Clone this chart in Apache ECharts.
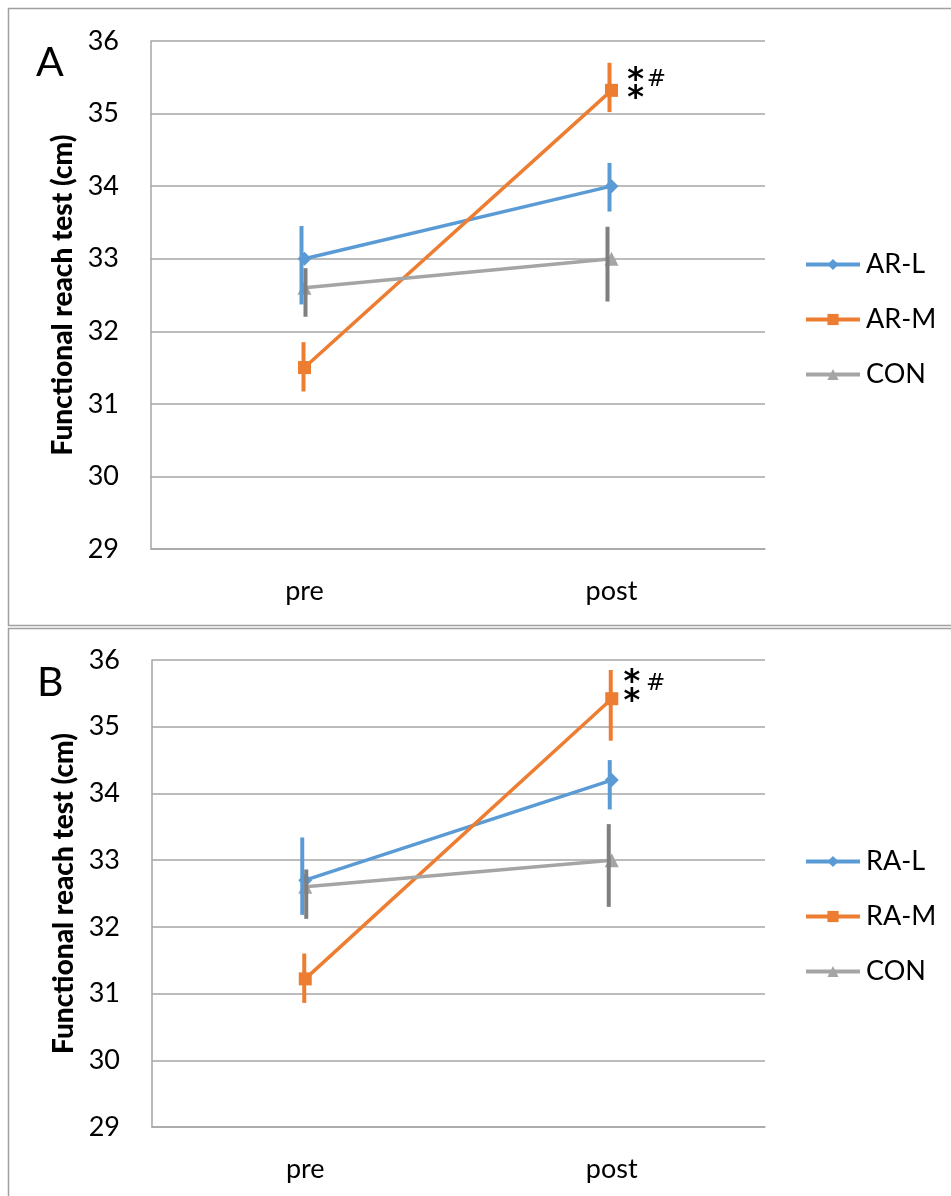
<!DOCTYPE html>
<html>
<head>
<meta charset="utf-8">
<script src="https://cdn.jsdelivr.net/npm/echarts@6/dist/echarts.min.js"></script>
<style>
html,body{margin:0;padding:0;background:#fff;}
#main{width:951px;height:1196px;}
</style>
</head>
<body>
<div id="main"></div>
<script>
// ---- data ----
const categories = ['pre', 'post'];
const yTicks = [29, 30, 31, 32, 33, 34, 35, 36];

// Panel A
const namesA = ['AR-L', 'AR-M', 'CON'];
const arL = [33.0, 34.0];
const arLLow = [32.37, 33.65];
const arLHigh = [33.45, 34.32];
const arM = [31.5, 35.32];
const arMLow = [31.17, 35.02];
const arMHigh = [31.85, 35.7];
const conA = [32.6, 33.0];
const conALow = [32.2, 32.41];
const conAHigh = [32.87, 33.44];

// Panel B
const namesB = ['RA-L', 'RA-M', 'CON'];
const raL = [32.7, 34.2];
const raLLow = [32.18, 33.76];
const raLHigh = [33.34, 34.5];
const raM = [31.22, 35.42];
const raMLow = [30.86, 34.79];
const raMHigh = [31.6, 35.85];
const conB = [32.6, 33.0];
const conBLow = [32.12, 32.3];
const conBHigh = [32.86, 33.54];

// significance markers (attached to post value of the M group)
const annotA = { cat: 1, value: arM[1] };
const annotB = { cat: 1, value: raM[1] };

// ---- styling ----
const FONT = 'Lato, "Open Sans", sans-serif';
const BLUE = '#5B9BD5', ORANGE = '#ED7D31', GRAY = '#A5A5A5', GRAYBAR = '#7F7F7F';
const GRIDC = '#A6A6A6';

const chart = echarts.init(document.getElementById('main'), null, { renderer: 'canvas' });

function xAxis(gi) {
  return {
    type: 'category', gridIndex: gi, data: categories, boundaryGap: true,
    axisTick: { show: false },
    axisLine: { show: true, lineStyle: { color: GRIDC, width: 1.5 } },
    axisLabel: { color: '#000', fontFamily: FONT, fontSize: 27, margin: 29 },
    splitLine: { show: false }
  };
}
function yAxis(gi) {
  return {
    type: 'value', gridIndex: gi, min: yTicks[0], max: yTicks[yTicks.length - 1], interval: 1,
    name: 'Functional reach test (cm)', nameLocation: 'middle', nameGap: 74,
    nameTextStyle: { color: '#000', fontFamily: 'Lato', fontSize: 28, fontWeight: 900 },
    axisLine: { show: true, lineStyle: { color: GRIDC, width: 1.5 } },
    axisTick: { show: false },
    axisLabel: { color: '#000', fontFamily: FONT, fontSize: 27, margin: 32 },
    splitLine: { show: true, lineStyle: { color: GRIDC, width: 1.5 } }
  };
}
function lineSeries(name, vals, color, symbol, size, gi) {
  return {
    type: 'line', name, xAxisIndex: gi, yAxisIndex: gi, data: vals,
    symbol, symbolSize: size, showSymbol: true,
    lineStyle: { color, width: 3.5 }, itemStyle: { color },
    z: 2, animation: false
  };
}
function errSeries(lows, highs, color, off, gi) {
  return {
    type: 'custom', xAxisIndex: gi, yAxisIndex: gi, z: 5, silent: true, animation: false,
    data: categories.map((c, i) => [i, lows[i], highs[i]]),
    encode: { x: 0, y: [1, 2] },
    renderItem: function (params, api) {
      const x = api.value(0);
      const p1 = api.coord([x, api.value(1)]);
      const p2 = api.coord([x, api.value(2)]);
      const o = off[x] || 0;
      return {
        type: 'line',
        shape: { x1: p1[0] + o, y1: p1[1], x2: p2[0] + o, y2: p2[1] },
        style: { stroke: color, lineWidth: 4 }
      };
    }
  };
}
function annotSeries(a, gi, offs) {
  return {
    type: 'custom', xAxisIndex: gi, yAxisIndex: gi, z: 6, silent: true, animation: false,
    data: [[a.cat, a.value]],
    renderItem: function (params, api) {
      const p = api.coord([api.value(0), api.value(1)]);
      const st = { fill: '#000', fontFamily: 'DejaVu Sans, sans-serif', align: 'center', verticalAlign: 'middle' };
      return {
        type: 'group',
        children: [
          { type: 'text', x: p[0] + offs.sx, y: p[1] + offs.s1, style: Object.assign({ text: '*', fontSize: 32, fontWeight: 'bold' }, st) },
          { type: 'text', x: p[0] + offs.sx, y: p[1] + offs.s2, style: Object.assign({ text: '*', fontSize: 32, fontWeight: 'bold' }, st) },
          { type: 'text', x: p[0] + offs.hx, y: p[1] + offs.hy, style: Object.assign({ text: '#', fontSize: 23 }, st) }
        ]
      };
    }
  };
}
function legend(names, top) {
  return {
    orient: 'vertical', left: 799, top, data: names,
    itemWidth: 54, itemHeight: 14, itemGap: 28,
    lineStyle: { width: 4 },
    textStyle: { color: '#000', fontFamily: FONT, fontSize: 27, padding: [0, 0, 0, 1] },
    selectedMode: false
  };
}

const option = {
  animation: false,
  backgroundColor: '#fff',
  graphic: [
    { type: 'rect', shape: { x: 8.5, y: 8.5, width: 960, height: 617 }, style: { fill: 'none', stroke: '#A0A0A0', lineWidth: 1.5 }, silent: true },
    { type: 'rect', shape: { x: 8.5, y: 628.5, width: 960, height: 600 }, style: { fill: 'none', stroke: '#A0A0A0', lineWidth: 1.5 }, silent: true },
    { type: 'text', left: 36, top: 42, style: { text: 'A', fontSize: 41, fontFamily: FONT, fill: '#000' } },
    { type: 'text', left: 37, top: 662, style: { text: 'B', fontSize: 41, fontFamily: FONT, fill: '#000' } }
  ],
  legend: [legend(namesA, 246), legend(namesB, 843)],
  grid: [
    { left: 151, top: 41, width: 614, height: 508 },
    { left: 152, top: 660, width: 613, height: 467 }
  ],
  xAxis: [xAxis(0), xAxis(1)],
  yAxis: [yAxis(0), yAxis(1)],
  series: [
    lineSeries(namesA[0], arL, BLUE, 'diamond', 14, 0),
    lineSeries(namesA[1], arM, ORANGE, 'rect', 13, 0),
    lineSeries(namesA[2], conA, GRAY, 'triangle', 14, 0),
    errSeries(arLLow, arLHigh, BLUE, [-3, -2], 0),
    errSeries(arMLow, arMHigh, ORANGE, [-1, -2], 0),
    errSeries(conALow, conAHigh, GRAYBAR, [1, -4], 0),
    annotSeries(annotA, 0, { sx: 24, s1: -10, s2: 8, hx: 45, hy: -10 }),

    lineSeries(namesB[0], raL, BLUE, 'diamond', 14, 1),
    lineSeries(namesB[1], raM, ORANGE, 'rect', 13, 1),
    lineSeries(namesB[2], conB, GRAY, 'triangle', 14, 1),
    errSeries(raLLow, raLHigh, BLUE, [-3, -2], 1),
    errSeries(raMLow, raMHigh, ORANGE, [-1, -1], 1),
    errSeries(conBLow, conBHigh, GRAYBAR, [1, -3], 1),
    annotSeries(annotB, 1, { sx: 20, s1: -16, s2: 3, hx: 44, hy: -15 })
  ]
};
chart.setOption(option);
</script>
</body>
</html>
